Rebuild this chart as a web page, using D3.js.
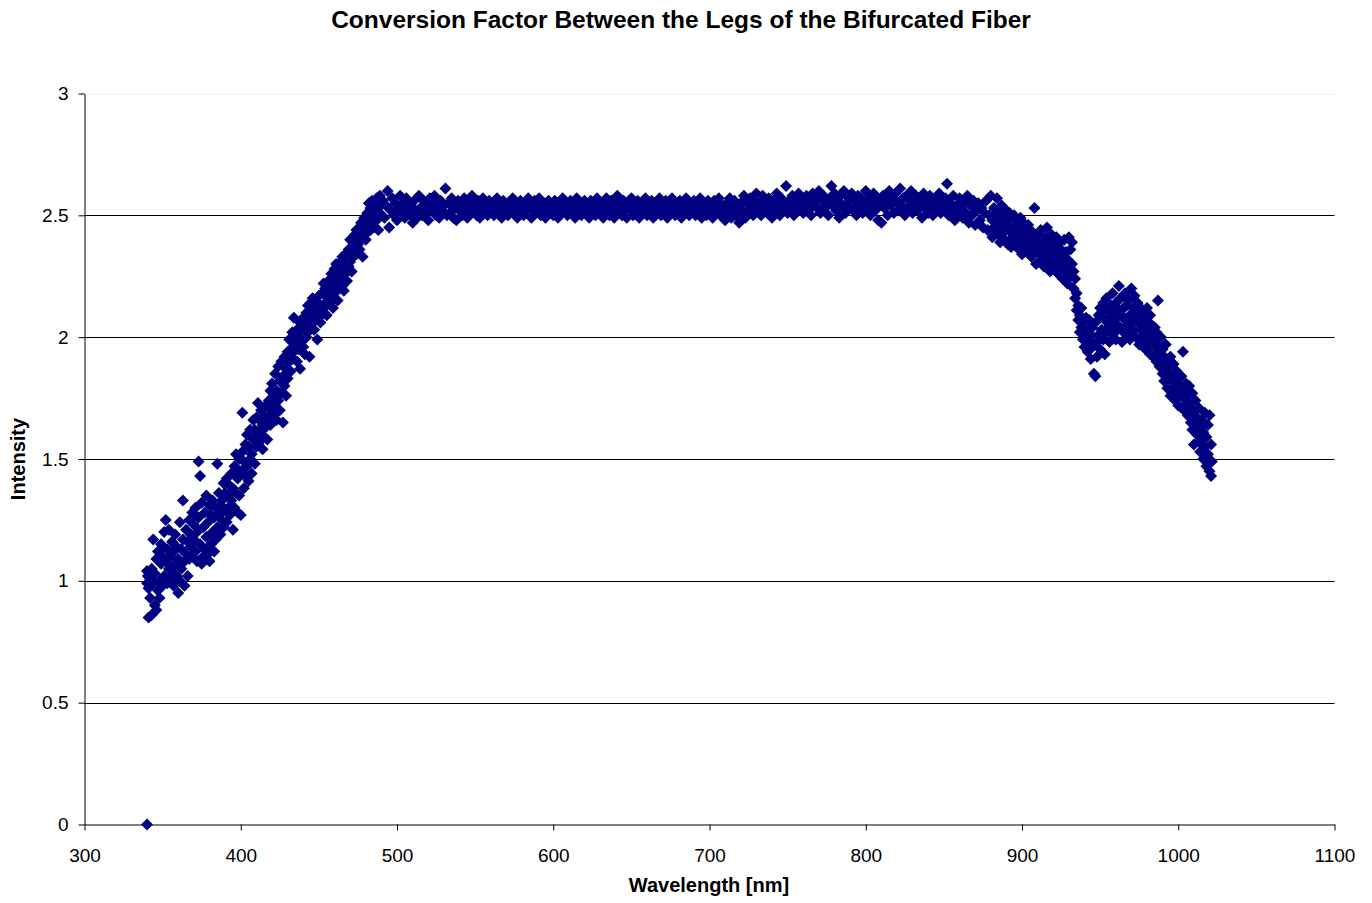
<!DOCTYPE html>
<html>
<head>
<meta charset="utf-8">
<script src="https://cdn.jsdelivr.net/npm/d3@7"></script>
<style>
  body { margin: 0; background: #fff; }
  text { font-family: Arial, "Liberation Sans", sans-serif; }
</style>
</head>
<body>
<div id="chart"></div>
<script>
// axis ticks
const xTicks = [300, 400, 500, 600, 700, 800, 900, 1000, 1100];
const yTicks = [0, 0.5, 1, 1.5, 2, 2.5, 3];

// [wavelength nm, intensity]
const uvTail = [[340,0.00],[340,1.04],[340,0.99],[340.5,1.02],[341,0.85],[341,0.97],[342,1.01],[342,0.93],
  [343,0.86],[343,1.05],[344,0.99],[344,1.17],[345,0.90],[345,1.03],[346,0.88],[346,1.09],[347,0.96],[347,1.12],
  [348,1.00],[348,0.93],[349,1.07],[349,1.15],[350,0.98],[350,1.10]];

const blueRise = [[351,1.02],[351,1.20],[352,1.08],[352,1.25],[353,0.99],[353,1.13],[354,1.05],[354,1.21],
  [355,1.10],[355,1.01],[356,1.04],[356,1.16],[357,1.12],[357,0.98],[358,1.07],[358,1.19],[359,1.02],[359,1.14],
  [360,1.09],[360,0.95],[361,1.24],[361,1.00],[362,1.13],[362,1.05],[363,1.33],[363,1.17],[364,1.08],[364,0.98],
  [365,1.21],[365,1.11],[366,1.02],[366,1.16],[367,1.25],[367,1.09],[368,1.14],[368,1.19],[369,1.28],[369,1.10],
  [370,1.17],[370,1.23],[371,1.12],[371,1.30],[372,1.20],[372,1.08],[373,1.49],[373,1.26],[374,1.43],[374,1.15],
  [375,1.07],[375,1.32],[376,1.22],[376,1.10],[377,1.28],[377,1.13],[378,1.18],[378,1.35],[379,1.24],[379,1.11],
  [380,1.31],[380,1.08],[381,1.15],[381,1.27],[382,1.20],[382,1.33],[383,1.12],[383,1.26],[384,1.30],[384,1.17],
  [385,1.48],[385,1.22],[386,1.27],[386,1.36],[387,1.19],[387,1.31],[388,1.33],[388,1.25],[389,1.40],[389,1.22],
  [390,1.29],[390,1.36],[391,1.24],[391,1.42],[392,1.35],[392,1.30],[393,1.27],[393,1.39],[394,1.44],[394,1.33],
  [395,1.21],[395,1.38],[396,1.47],[396,1.30],[397,1.36],[397,1.52],[398,1.42],[398,1.28],[399,1.50],[399,1.35],
  [400,1.45],[400,1.27],[401,1.69],[401,1.53],[402,1.38],[402,1.49],[403,1.56],[403,1.43],[404,1.47],[404,1.60],
  [405,1.41],[405,1.55],[406,1.62],[406,1.50],[407,1.52],[407,1.44],[408,1.58],[408,1.66],[409,1.48],[409,1.62],
  [410,1.67],[410,1.55],[411,1.73],[411,1.60],[412,1.57],[412,1.66],[413,1.62],[413,1.70],[414,1.54],[414,1.64],
  [415,1.68],[415,1.59],[416,1.63],[416,1.72],[417,1.66],[417,1.58],[418,1.74],[418,1.68],[419,1.64],[419,1.78],
  [420,1.70],[420,1.81],[421,1.68],[421,1.75],[422,1.85],[422,1.72],[423,1.78],[423,1.66],[424,1.88],[424,1.74],
  [425,1.70],[425,1.82],[426,1.90],[426,1.77],[427,1.65],[427,1.84],[428,1.80],[428,1.92],[429,1.87],[429,1.76],
  [430,1.94],[430,1.83],[431,1.90],[431,1.99],[432,1.86],[432,1.95],[433,2.02],[433,1.91],[434,2.08],[434,1.94],
  [435,1.97],[435,2.01],[436,1.90],[436,2.03],[437,2.00],[437,1.95],[438,1.87],[438,2.06],[439,2.03],[439,1.98],
  [440,1.96],[440,2.08],[441,2.05],[441,1.93],[442,2.10],[442,2.00],[443,2.02],[443,2.13],[444,1.92],[444,2.07],
  [445,2.14],[445,2.04],[446,2.09],[446,2.16],[447,2.03],[447,2.11],[448,2.15],[448,2.07],[449,1.99],[449,2.12],
  [450,2.08],[450,2.17],[451,2.13],[451,2.06],[452,2.18],[452,2.10],[453,2.12],[453,2.22],[454,2.20],[454,2.14],
  [455,2.09],[455,2.17],[456,2.23],[456,2.16],[457,2.14],[457,2.21],[458,2.19],[458,2.26],[459,2.12],[459,2.24],
  [460,2.28],[460,2.18],[461,2.22],[461,2.30],[462,2.15],[462,2.25],[463,2.27],[463,2.20],[464,2.31],[464,2.24],
  [465,2.21],[465,2.33],[466,2.28],[466,2.19],[467,2.34],[467,2.26],[468,2.23],[468,2.30],[469,2.36],[469,2.29],
  [470,2.31],[470,2.40],[471,2.27],[471,2.35],[472,2.39],[472,2.33],[473,2.42],[473,2.36],[474,2.34],[474,2.44],
  [475,2.38],[475,2.43],[476,2.45],[476,2.36],[477,2.40],[477,2.47],[478,2.33],[478,2.42],[479,2.44],[479,2.49],
  [480,2.40],[480,2.46],[481,2.51],[481,2.43],[482,2.47],[482,2.55],[483,2.53],[483,2.44],[484,2.49],[484,2.56],
  [485,2.45],[485,2.52],[486,2.55],[486,2.50],[487,2.48],[487,2.57],[488,2.53],[488,2.44],[489,2.58],[489,2.51],
  [490,2.50],[490,2.55]];

const plateau = [[491,2.56],[492,2.49],[493,2.54],[494,2.60],[495,2.45],[496,2.52],[497,2.57],[498,2.50],[499,2.55],[500,2.48],
  [501,2.53],[502,2.58],[503,2.51],[504,2.55],[505,2.49],[506,2.57],[507,2.52],[508,2.54],[509,2.50],[510,2.47],
  [511,2.56],[512,2.52],[513,2.49],[514,2.58],[515,2.53],[516,2.50],[517,2.56],[518,2.51],[519,2.54],[520,2.48],
  [521,2.57],[522,2.52],[523,2.55],[524,2.58],[525,2.50],[526,2.53],[527,2.49],[528,2.56],[529,2.52],[530,2.54],
  [531,2.61],[532,2.50],[533,2.55],[534,2.51],[535,2.57],[536,2.49],[537,2.53],[538,2.48],[539,2.56],[540,2.52],
  [541,2.54],[542,2.50],[543,2.57],[544,2.53],[545,2.49],[546,2.55],[547,2.51],[548,2.58],[549,2.52],[550,2.54],
  [551,2.50],[552,2.56],[553,2.49],[554,2.53],[555,2.57],[556,2.51],[557,2.54],[558,2.50],[559,2.56],[560,2.52],
  [561,2.55],[562,2.50],[563,2.54],[564,2.57],[565,2.51],[566,2.53],[567,2.49],[568,2.56],[569,2.52],[570,2.54],
  [571,2.50],[572,2.55],[573,2.53],[574,2.57],[575,2.51],[576,2.54],[577,2.49],[578,2.52],[579,2.56],[580,2.53],
  [581,2.50],[582,2.55],[583,2.52],[584,2.57],[585,2.54],[586,2.49],[587,2.53],[588,2.56],[589,2.51],[590,2.54],
  [591,2.57],[592,2.50],[593,2.53],[594,2.55],[595,2.49],[596,2.52],[597,2.56],[598,2.51],[599,2.54],[600,2.50],
  [601,2.56],[602,2.53],[603,2.49],[604,2.55],[605,2.51],[606,2.57],[607,2.52],[608,2.54],[609,2.50],[610,2.53],
  [611,2.56],[612,2.51],[613,2.54],[614,2.49],[615,2.57],[616,2.52],[617,2.55],[618,2.50],[619,2.53],[620,2.56],
  [621,2.51],[622,2.54],[623,2.49],[624,2.56],[625,2.52],[626,2.55],[627,2.50],[628,2.57],[629,2.53],[630,2.51],
  [631,2.55],[632,2.49],[633,2.54],[634,2.57],[635,2.52],[636,2.50],[637,2.56],[638,2.53],[639,2.49],[640,2.55],
  [641,2.58],[642,2.51],[643,2.54],[644,2.50],[645,2.56],[646,2.52],[647,2.49],[648,2.55],[649,2.53],[650,2.57],
  [651,2.50],[652,2.54],[653,2.52],[654,2.56],[655,2.49],[656,2.53],[657,2.55],[658,2.51],[659,2.57],[660,2.50],
  [661,2.54],[662,2.52],[663,2.56],[664,2.49],[665,2.55],[666,2.51],[667,2.53],[668,2.57],[669,2.50],[670,2.54],
  [671,2.52],[672,2.56],[673,2.49],[674,2.54],[675,2.51],[676,2.57],[677,2.53],[678,2.50],[679,2.55],[680,2.52],
  [681,2.56],[682,2.49],[683,2.54],[684,2.51],[685,2.57],[686,2.53],[687,2.50],[688,2.55],[689,2.52],[690,2.56],
  [691,2.50],[692,2.54],[693,2.51],[694,2.57],[695,2.49],[696,2.53],[697,2.55],[698,2.50],[699,2.56],[700,2.52],
  [701,2.54],[702,2.49],[703,2.56],[704,2.51],[705,2.53],[706,2.57],[707,2.50],[708,2.54],[709,2.52],[710,2.48],
  [711,2.55],[712,2.51],[713,2.57],[714,2.49],[715,2.53],[716,2.56],[717,2.50],[718,2.54],[719,2.47],[720,2.55],
  [721,2.52],[722,2.58],[723,2.49],[724,2.55],[725,2.51],[726,2.57],[727,2.53],[728,2.50],[729,2.56],[730,2.59],
  [731,2.52],[732,2.55],[733,2.50],[734,2.58],[735,2.53],[736,2.56],[737,2.51],[738,2.57],[739,2.54],[740,2.49],
  [741,2.56],[742,2.52],[743,2.59],[744,2.54],[745,2.50],[746,2.57],[747,2.53],[748,2.55],[749,2.62],[750,2.51],
  [751,2.56],[752,2.53],[753,2.58],[754,2.50],[755,2.55],[756,2.52],[757,2.59],[758,2.54],[759,2.57],[760,2.51],
  [761,2.55],[762,2.58],[763,2.52],[764,2.56],[765,2.50],[766,2.59],[767,2.54],[768,2.57],[769,2.53],[770,2.60],
  [771,2.51],[772,2.56],[773,2.58],[774,2.53],[775,2.55],[776,2.50],[777,2.57],[778,2.62],[779,2.54],[780,2.59],
  [781,2.52],[782,2.56],[783,2.49],[784,2.58],[785,2.54],[786,2.60],[787,2.51],[788,2.55],[789,2.57],[790,2.53],
  [791,2.59],[792,2.52],[793,2.56],[794,2.50],[795,2.58],[796,2.54],[797,2.57],[798,2.51],[799,2.55],[800,2.60],
  [801,2.53],[802,2.57],[803,2.50],[804,2.55],[805,2.59],[806,2.52],[807,2.56],[808,2.48],[809,2.54],[810,2.47],
  [811,2.58],[812,2.53],[813,2.56],[814,2.50],[815,2.60],[816,2.54],[817,2.57],[818,2.51],[819,2.59],[820,2.55],
  [821,2.52],[822,2.61],[823,2.54],[824,2.57],[825,2.50],[826,2.58],[827,2.53],[828,2.56],[829,2.60],[830,2.51],
  [831,2.55],[832,2.58],[833,2.52],[834,2.57],[835,2.54],[836,2.49],[837,2.59],[838,2.53],[839,2.56],[840,2.51],
  [841,2.58],[842,2.54],[843,2.50],[844,2.57],[845,2.52],[846,2.55],[847,2.59],[848,2.51],[849,2.56],[850,2.53],
  [851,2.57],[852,2.63],[853,2.50],[854,2.55],[855,2.52],[856,2.58],[857,2.48],[858,2.54],[859,2.51],[860,2.57],
  [861,2.53],[862,2.49],[863,2.56],[864,2.51],[865,2.58],[866,2.47],[867,2.54],[868,2.50],[869,2.56],[870,2.46],
  [871,2.52],[872,2.55],[873,2.48],[874,2.53],[875,2.45],[876,2.51],[877,2.56],[878,2.44],[879,2.50],[880,2.58]];

const redFall = [[881,2.48],[881,2.41],[882,2.53],[882,2.45],[883,2.44],[883,2.50],[884,2.57],[884,2.47],
  [885,2.42],[885,2.52],[886,2.49],[886,2.39],[887,2.54],[887,2.46],[888,2.43],[888,2.50],[889,2.47],[889,2.40],
  [890,2.52],[890,2.44],[891,2.38],[891,2.48],[892,2.45],[892,2.51],[893,2.37],[893,2.43],[894,2.49],[894,2.41],
  [895,2.44],[895,2.50],[896,2.39],[896,2.46],[897,2.48],[897,2.42],[898,2.36],[898,2.45],[899,2.43],[899,2.49],
  [900,2.34],[900,2.40],[901,2.47],[901,2.38],[902,2.41],[902,2.45],[903,2.35],[903,2.43],[904,2.46],[904,2.39],
  [905,2.40],[905,2.44],[906,2.33],[906,2.38],[907,2.43],[907,2.36],[908,2.53],[908,2.40],[909,2.30],[909,2.37],
  [910,2.42],[910,2.35],[911,2.38],[911,2.31],[912,2.44],[912,2.34],[913,2.36],[913,2.40],[914,2.29],[914,2.38],
  [915,2.41],[915,2.33],[916,2.35],[916,2.45],[917,2.31],[917,2.38],[918,2.39],[918,2.27],[919,2.34],[919,2.42],
  [920,2.30],[920,2.37],[921,2.38],[921,2.28],[922,2.33],[922,2.41],[923,2.26],[923,2.35],[924,2.39],[924,2.31],
  [925,2.29],[925,2.36],[926,2.34],[926,2.24],[927,2.40],[927,2.30],[928,2.27],[928,2.35],[929,2.32],[929,2.22],
  [930,2.41],[930,2.28],[931,2.36],[931,2.25],[932,2.30],[932,2.39],[933,2.20],[933,2.27],[934,2.24],[934,2.16],
  [935,2.18],[935,2.11],[936,2.13],[936,2.07],[937,2.09],[937,2.02],[938,2.04],[938,2.12],[939,1.99],[939,2.06],
  [940,2.02],[940,1.96],[941,2.08],[941,1.98],[942,1.94],[942,2.03],[943,1.99],[943,2.07],[944,1.91],[944,2.01],
  [945,2.04],[945,1.96],[946,1.85],[946,1.97],[947,1.84],[947,2.06],[948,1.98],[948,1.92],[949,2.09],[949,2.01],
  [950,1.95],[950,2.12],[951,2.03],[951,2.10],[952,1.99],[952,2.14],[953,2.07],[953,1.93],[954,2.16],[954,2.02],
  [955,2.04],[955,2.11],[956,1.98],[956,2.08],[957,2.13],[957,2.05],[958,2.18],[958,2.01],[959,2.06],[959,2.10],
  [960,1.99],[960,2.14],[961,2.08],[961,2.03],[962,2.21],[962,2.11],[963,2.04],[963,2.16],[964,1.98],[964,2.09],
  [965,2.12],[965,2.02],[966,2.07],[966,2.18],[967,2.01],[967,2.13],[968,2.15],[968,2.05],[969,2.09],[969,1.99],
  [970,2.20],[970,2.06],[971,2.03],[971,2.12],[972,2.17],[972,2.08],[973,2.00],[973,2.11],[974,2.06],[974,2.14],
  [975,1.97],[975,2.09],[976,2.12],[976,2.03],[977,2.05],[977,1.98],[978,2.10],[978,2.01],[979,1.95],[979,2.07],
  [980,2.03],[980,2.12],[981,1.98],[981,2.06],[982,2.09],[982,1.93],[983,2.01],[983,2.05],[984,1.92],[984,1.99],
  [985,2.04],[985,1.96],[986,1.90],[986,2.02],[987,2.15],[987,1.97],[988,1.94],[988,1.88],[989,2.00],[989,1.91],
  [990,1.85],[990,1.95],[991,1.92],[991,1.82],[992,1.88],[992,1.97],[993,1.79],[993,1.90],[994,1.86],[994,1.83],
  [995,1.76],[995,1.92],[996,1.84],[996,1.79],[997,1.89],[997,1.77],[998,1.81],[998,1.74],[999,1.86],[999,1.78],
  [1000,1.72],[1000,1.83],[1001,1.80],[1001,1.76],[1002,1.84],[1002,1.71],[1003,1.94],[1003,1.77],[1004,1.70],[1004,1.79],
  [1005,1.81],[1005,1.74],[1006,1.68],[1006,1.76],[1007,1.73],[1007,1.80],[1008,1.65],[1008,1.71],[1009,1.77],[1009,1.62],
  [1010,1.69],[1010,1.56],[1011,1.74],[1011,1.64],[1012,1.60],[1012,1.67],[1013,1.71],[1013,1.57],[1014,1.53],[1014,1.63],
  [1015,1.66],[1015,1.58],[1016,1.50],[1016,1.61],[1017,1.69],[1017,1.55],[1018,1.47],[1018,1.59],[1019,1.64],[1019,1.52],
  [1020,1.68],[1020,1.45],[1021,1.56],[1021,1.43],[1021.5,1.49]];

// 차트 크기
const W = 1372, H = 903;
const navy = "#000080";

const svg = d3.select("#chart")
  .append("svg")
  .attr("width", W)
  .attr("height", H);

// 스케일
const x = d3.scaleLinear().domain([300, 1100]).range([84.5, 1334.5]);
const y = d3.scaleLinear().domain([0, 3]).range([824.5, 93.5]);

// 가로 격자선
svg.append("g")
  .selectAll("line")
  .data(yTicks.filter(d => d > 0))
  .join("line")
  .attr("x1", x(300))
  .attr("x2", x(1100))
  .attr("y1", d => Math.round(y(d)) + 0.5)
  .attr("y2", d => Math.round(y(d)) + 0.5)
  .attr("stroke", d => d === 3 ? "#ececec" : "#000")
  .attr("stroke-width", 1);

// 축
const xAxis = d3.axisBottom(x).tickValues(xTicks).tickFormat(d3.format("d"))
  .tickSize(6).tickSizeOuter(0).tickPadding(18);
const yAxis = d3.axisLeft(y).tickValues(yTicks).tickFormat(d3.format(""))
  .tickSize(6).tickSizeOuter(0).tickPadding(10);

const xg = svg.append("g").attr("transform", `translate(0,${y(0)})`).call(xAxis);
const yg = svg.append("g").attr("transform", `translate(${x(300)},0)`).call(yAxis);

[xg, yg].forEach(g => {
  g.select(".domain").attr("stroke", "#000");
  g.selectAll(".tick line").attr("stroke", "#000");
  g.selectAll(".tick text")
    .attr("fill", "#000")
    .style("font-size", "19px")
    .style("font-family", 'Arial, "Liberation Sans", sans-serif');
});

// 점 (마름모)
const diamond = "M0,-6L6,0L0,6L-6,0Z";
const points = [].concat(uvTail, blueRise, plateau, redFall);

svg.append("g")
  .selectAll("path")
  .data(points)
  .join("path")
  .attr("d", diamond)
  .attr("transform", d => `translate(${x(d[0])},${y(d[1])})`)
  .attr("fill", navy);

// 제목과 축 이름
svg.append("text")
  .attr("x", 681)
  .attr("y", 28)
  .attr("text-anchor", "middle")
  .style("font-size", "24.5px")
  .style("font-weight", "bold")
  .text("Conversion Factor Between the Legs of the Bifurcated Fiber");

svg.append("text")
  .attr("x", 709)
  .attr("y", 892)
  .attr("text-anchor", "middle")
  .style("font-size", "20px")
  .style("font-weight", "bold")
  .text("Wavelength [nm]");

svg.append("text")
  .attr("transform", "translate(25,459) rotate(-90)")
  .attr("text-anchor", "middle")
  .style("font-size", "20px")
  .style("font-weight", "bold")
  .text("Intensity");
</script>
</body>
</html>
